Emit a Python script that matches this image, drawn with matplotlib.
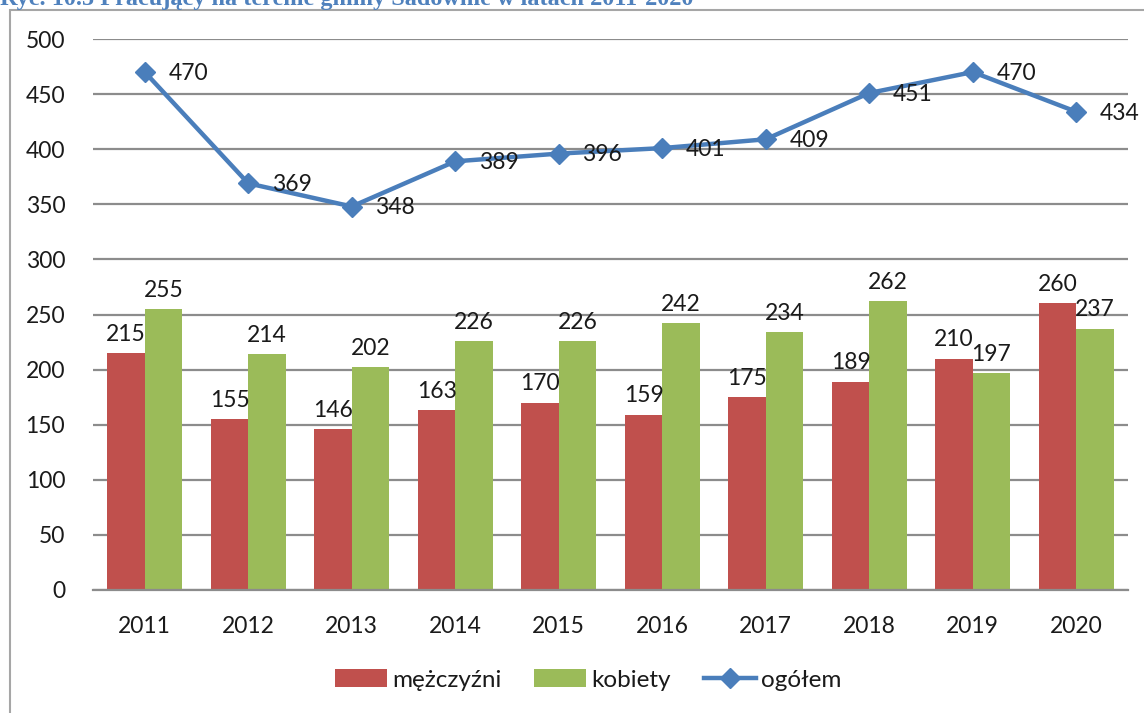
import matplotlib.pyplot as plt
from matplotlib.patches import Rectangle

years = ['2011', '2012', '2013', '2014', '2015', '2016', '2017', '2018', '2019', '2020']
men = [215, 155, 146, 163, 170, 159, 175, 189, 210, 260]
women = [255, 214, 202, 226, 226, 242, 234, 262, 197, 237]
total = [470, 369, 348, 389, 396, 401, 409, 451, 470, 434]

RED = '#c0504d'
GREEN = '#9bbb59'
BLUE = '#4a7ebb'
TXT = '#1a1a1a'
FS = 16.5

plt.rcParams['font.family'] = ['Lato', 'DejaVu Sans']

fig = plt.figure(figsize=(11.44, 7.13), dpi=100)
ax = fig.add_axes([93 / 1144, 1 - 590 / 713, (1128 - 93) / 1144, 551 / 713])

x = list(range(len(years)))
w = 0.36
b1 = ax.bar([i - w / 2 for i in x], men, width=w, color=RED, label='mężczyźni', zorder=2)
b2 = ax.bar([i + w / 2 for i in x], women, width=w, color=GREEN, label='kobiety', zorder=2)
ax.plot(x, total, color=BLUE, lw=3.2, marker='D', markersize=10, label='ogółem', zorder=3)

for bars, vals in ((b1, men), (b2, women)):
    for r, v in zip(bars, vals):
        ax.annotate(str(v), (r.get_x() + r.get_width() / 2, v), xytext=(0, 6),
                    textcoords='offset points', ha='center', va='bottom', fontsize=FS, color=TXT)
for i, v in zip(x, total):
    ax.annotate(str(v), (i, v), xytext=(17, -1), textcoords='offset points',
                ha='left', va='center', fontsize=FS, color=TXT, zorder=4)

ax.set_xlim(-0.5, len(years) - 0.5)
ax.set_ylim(0, 500)
ax.set_yticks(range(0, 501, 50))
ax.set_xticks(x)
ax.set_xticklabels(years)
ax.tick_params(axis='both', length=0, labelsize=FS, colors=TXT)
ax.tick_params(axis='y', pad=20)
ax.tick_params(axis='x', pad=19)
ax.grid(axis='y', color='#8c8c8c', lw=1.6, zorder=0)
ax.set_axisbelow(True)
for s in ('top', 'right', 'left'):
    ax.spines[s].set_visible(False)
ax.spines['bottom'].set_color('#8c8c8c')
ax.spines['bottom'].set_linewidth(1.6)

h, l = ax.get_legend_handles_labels()
order = [1, 2, 0]
ax.legend([h[k] for k in order], [l[k] for k in order], loc='center',
          bbox_to_anchor=(588 / 1144, 1 - 680 / 713), bbox_transform=fig.transFigure,
          ncol=3, frameon=False, fontsize=17.5, handlelength=2.15, handleheight=0.7,
          columnspacing=1.35, handletextpad=0.2, labelcolor=TXT)

# outer frame of the chart
fig.patches.append(Rectangle((10 / 1144, -0.1), 1.2, 1 - 10 / 713 + 0.1, transform=fig.transFigure,
                             fill=False, edgecolor='#a6a6a6', lw=1.5))
# title cut off at the top
fig.text(0.0, 1.0, 'Ryc. 10.5 Pracujący na terenie gminy Sadownie w latach 2011-2020',
         family='Liberation Serif', fontweight='bold', fontsize=17.5, color='#4f81bd', va='center', ha='left')

fig.savefig('out.png', dpi=100)
